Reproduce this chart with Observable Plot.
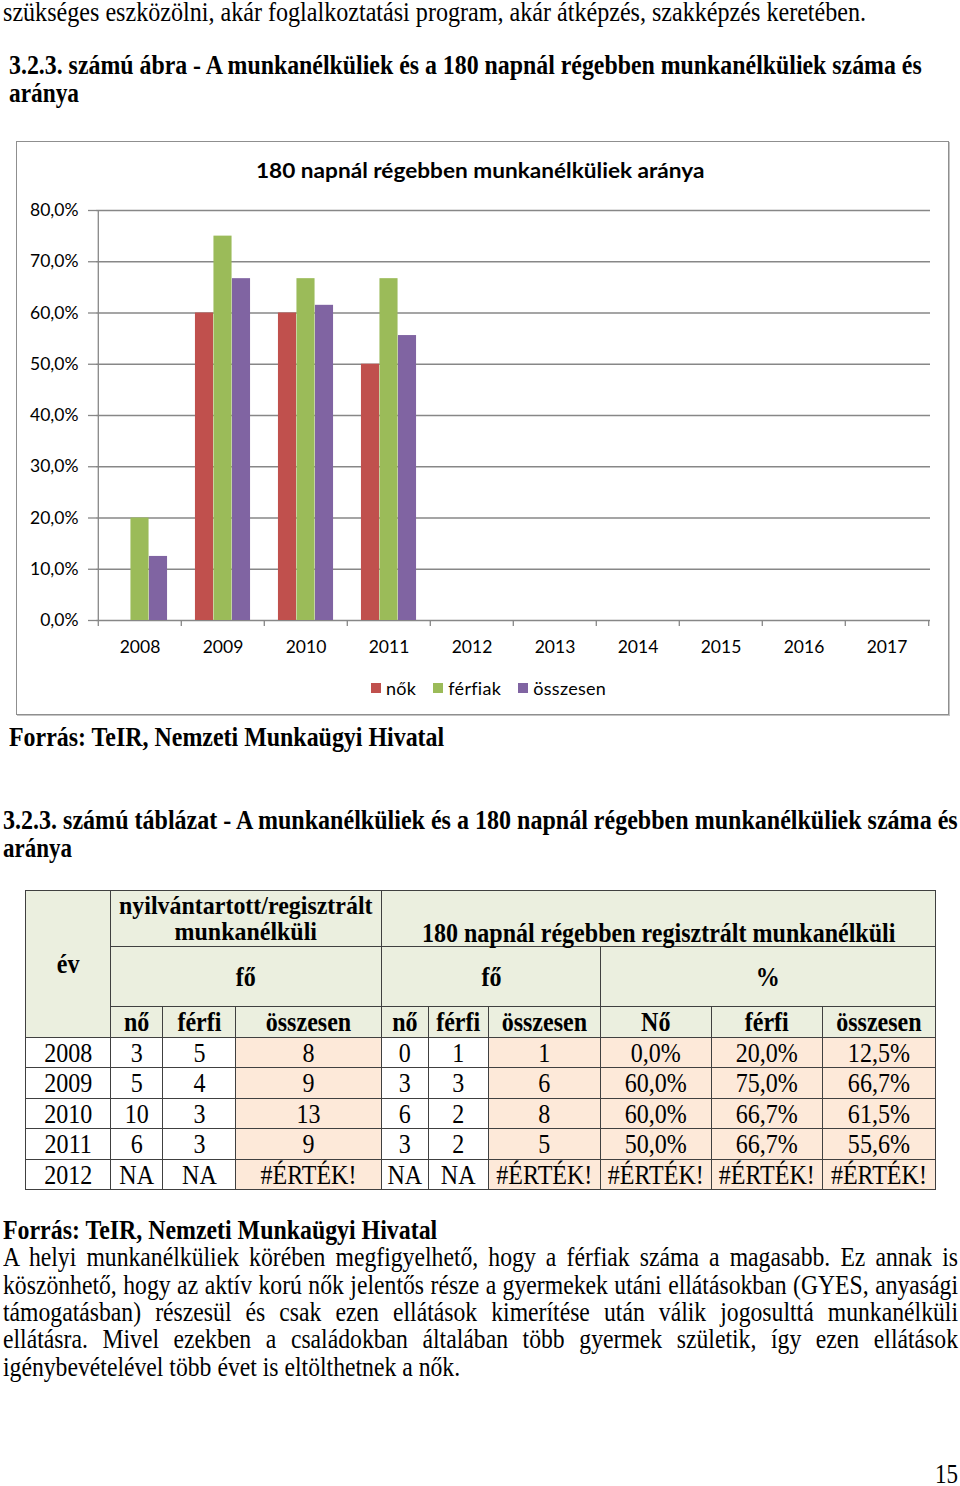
<!DOCTYPE html>
<html><head><meta charset="utf-8">
<script src="https://cdn.jsdelivr.net/npm/d3@7"></script>
<script src="https://cdn.jsdelivr.net/npm/@observablehq/plot@0.6"></script>
<style>
html,body{margin:0;padding:0;background:#fff}
body{width:960px;height:1486px;position:relative;overflow:hidden;font-family:"Liberation Serif","Times New Roman",serif;color:#000}
.t{position:absolute;white-space:nowrap;font-size:27px;line-height:27px;transform-origin:0 0;display:inline-block}
.b{font-weight:bold}
.jl{position:absolute;white-space:nowrap;font-size:27px;line-height:27px;transform-origin:0 0;text-align:justify;text-align-last:justify}
#box{position:absolute;left:16px;top:141px;width:933px;height:574px;box-sizing:border-box;border:1px solid #8f8f8f;box-shadow:1px 1px 0 #c4c4c4}
#ctitle{position:absolute;left:0;right:0;top:156px;text-align:center;font-family:Lato,sans-serif;font-weight:bold;font-size:21px;line-height:28px;color:#000}
#ctitle span{display:inline-block;transform-origin:50% 50%}
#chart{position:absolute;left:0;top:190px}
#legend{position:absolute;left:371px;top:677px;display:flex;gap:17px;font-family:Lato,sans-serif;font-size:18px;line-height:22px;letter-spacing:0.3px}
#legend .it{display:flex;align-items:center;gap:5px}
#legend .sw{width:10px;height:10px}
#tbl{position:absolute;left:25px;top:890px;width:910px;border-collapse:collapse;table-layout:fixed;font-size:27px;line-height:26px}
#tbl td{border:1.5px solid #404040;padding:0;text-align:center;vertical-align:middle;white-space:nowrap;overflow:visible}
#tbl td div{display:block;width:112.36%;margin-left:-6.18%;transform:scaleX(0.89);transform-origin:50% 50%;text-align:center}
#tbl td.two div{font-size:25.5px;line-height:26px;width:106.5%;margin-left:-3.25%;transform:scaleX(0.939)}
#tbl td.h{background:#EBEFDF;font-weight:bold}
#tbl td.p{background:#FDE9D9}
#tbl td.w{background:#fff}
</style></head>
<body>
<div id="box"></div>
<div id="ctitle"><span id="ctitleText"></span></div>
<div id="chart"></div>
<div id="legend"></div>
<script>
// ---------- chart data ----------
const years = ["2008","2009","2010","2011","2012","2013","2014","2015","2016","2017"];
const dataYears = ["2008","2009","2010","2011"];
const series = ["nők","férfiak","összesen"];
const seriesColors = ["#C0504D","#9BBB59","#8064A2"];
const nok = [0, 60, 60, 50];
const ferfiak = [20, 75, 66.7, 66.7];
const osszesen = [12.5, 66.7, 61.5, 55.6];
const yTicks = [0,10,20,30,40,50,60,70,80];
const chartTitle = "180 napnál régebben munkanélküliek aránya";

// ---------- table data ----------
const tYears = ["2008","2009","2010","2011","2012"];
const regNo = ["3","5","10","6","NA"];
const regFerfi = ["5","4","3","3","NA"];
const regOssz = ["8","9","13","9","#ÉRTÉK!"];
const longNo = ["0","3","6","3","NA"];
const longFerfi = ["1","3","2","2","NA"];
const longOssz = ["1","6","8","5","#ÉRTÉK!"];
const pctNo = ["0,0%","60,0%","60,0%","50,0%","#ÉRTÉK!"];
const pctFerfi = ["20,0%","75,0%","66,7%","66,7%","#ÉRTÉK!"];
const pctOssz = ["12,5%","66,7%","61,5%","55,6%","#ÉRTÉK!"];
const subHeads = ["nő","férfi","összesen","nő","férfi","összesen","Nő","férfi","összesen"];

// ---------- texts ----------
const topLine = "szükséges  eszközölni, akár foglalkoztatási program, akár átképzés, szakképzés keretében.";
const figCaption = ["3.2.3. számú ábra - A munkanélküliek és a 180 napnál régebben munkanélküliek száma és", "aránya"];
const tabCaption = ["3.2.3. számú táblázat - A munkanélküliek és a 180 napnál régebben munkanélküliek száma és", "aránya"];
const source = "Forrás: TeIR, Nemzeti Munkaügyi Hivatal";
const para = [
 "A helyi munkanélküliek körében megfigyelhető, hogy a férfiak száma a magasabb. Ez annak is",
 "köszönhető, hogy az aktív korú nők jelentős része a gyermekek utáni ellátásokban (GYES, anyasági",
 "támogatásban) részesül és csak ezen ellátások kimerítése után válik jogosulttá munkanélküli",
 "ellátásra. Mivel ezekben a családokban általában több gyermek születik, így ezen ellátások",
 "igénybevételével több évet is eltölthetnek a nők."
];
const pageNo = "15";

// ---------- chart ----------
const W = 960, H = 480, ML = 96, MR = 30, MT = 20, MB = 50;
const bw = (W - ML - MR) / years.length;
const barW = 18.5;
const values = [nok, ferfiak, osszesen];
const data = dataYears.flatMap((y, i) => series.map((s, k) => ({year: y, series: s, value: values[k][i]})));
const grid = "#878787";
const fmt = d => d.toFixed(1).replace(".", ",") + "%";

const chart = Plot.plot({
  width: W, height: H,
  marginLeft: ML, marginRight: MR, marginTop: MT, marginBottom: MB,
  style: {background: "transparent", fontFamily: "Lato, sans-serif", fontSize: "17.5px", color: "#000", overflow: "visible"},
  x: {domain: years, padding: 0, label: null},
  y: {domain: [0, 80], label: null},
  color: {domain: series, range: seriesColors},
  marks: [
    Plot.ruleY(yTicks, {stroke: grid, strokeWidth: 1.3}),
    Plot.ruleX([years[0]], {dx: -bw / 2, stroke: grid, strokeWidth: 1.3}),
    ...series.map((s, k) => Plot.barY(data.filter(d => d.series === s), {
      x: "year", y: "value", fill: "series",
      insetLeft: (bw - barW) / 2, insetRight: (bw - barW) / 2, dx: (k - 1) * barW
    })),
    Plot.axisY({ticks: yTicks, tickSize: 8, tickPadding: 10, tickFormat: fmt, stroke: grid, strokeWidth: 1.3}),
    Plot.axisX({tickSize: 0, tickPadding: 20}),
    Plot.axisX({tickSize: 6, text: null, dx: -bw / 2, stroke: grid, strokeWidth: 1.3}),
    Plot.axisX({ticks: [years[years.length - 1]], tickSize: 6, text: null, dx: bw / 2, stroke: grid, strokeWidth: 1.3})
  ]
});
document.getElementById("chart").appendChild(chart);
document.getElementById("ctitleText").textContent = chartTitle;

const legend = document.getElementById("legend");
series.forEach((s, k) => {
  const it = document.createElement("div"); it.className = "it";
  const sw = document.createElement("div"); sw.className = "sw"; sw.style.background = seriesColors[k];
  const tx = document.createElement("span"); tx.textContent = s;
  it.appendChild(sw); it.appendChild(tx); legend.appendChild(it);
});

// ---------- page texts ----------
// base is the text baseline; the line box is kept small so boxes do not overlap
function addText(str, x, base, w, bold, lh = 22) {
  const el = document.createElement("div");
  el.className = "t" + (bold ? " b" : "");
  el.textContent = str;
  el.style.lineHeight = lh + "px";
  const off = (lh - 1.107 * 27) / 2 + 0.891 * 27;
  el.style.left = x + "px"; el.style.top = (base - off) + "px";
  el.dataset.w = w;
  document.body.appendChild(el);
  return el;
}
const fits = [];
fits.push(addText(topLine, 3, 21.5, 863, false));
fits.push(addText(figCaption[0], 9, 74.5, 913, true));
fits.push(addText(figCaption[1], 9, 102.5, 70, true));
fits.push(addText(source, 9, 746.5, 435, true));
fits.push(addText(tabCaption[0], 3, 829.5, 955, true));
fits.push(addText(tabCaption[1], 3, 857.5, 69, true));
fits.push(addText(source, 3, 1239.5, 434, true));
const paraBase = 1266.5, paraStep = 27.3;
const lastLine = addText(para[4], 3, paraBase + 4 * paraStep, 457, false);
fits.push(lastLine);
fits.push(addText(pageNo, 935, 1483, 23, false));
const jlines = para.slice(0, 4).map((p, i) => {
  const el = document.createElement("div");
  el.className = "jl"; el.textContent = p;
  const lh = 22, off = (lh - 1.107 * 27) / 2 + 0.891 * 27;
  el.style.lineHeight = lh + "px";
  el.style.left = "3px"; el.style.top = (paraBase + i * paraStep - off) + "px";
  document.body.appendChild(el);
  return el;
});

// ---------- table ----------
const tbl = document.createElement("table"); tbl.id = "tbl";
const colW = [85, 52, 73, 146, 47, 60, 112, 111, 111, 113];
const cg = document.createElement("colgroup");
colW.forEach(w => { const c = document.createElement("col"); c.style.width = w + "px"; cg.appendChild(c); });
tbl.appendChild(cg);
function row(h) { const tr = document.createElement("tr"); tr.style.height = h + "px"; tbl.appendChild(tr); return tr; }
function cell(tr, html, cls, opts = {}) {
  const td = document.createElement("td"); td.className = cls;
  td.innerHTML = "<div>" + html + "</div>";
  if (opts.rs) td.rowSpan = opts.rs; if (opts.cs) td.colSpan = opts.cs;
  if (opts.va) td.style.verticalAlign = opts.va;
  tr.appendChild(td); return td;
}
let r = row(56);
cell(r, "év", "h", {rs: 3});
cell(r, "nyilvántartott/regisztrált<br>munkanélküli", "h two", {cs: 3});
cell(r, "180 napnál régebben regisztrált munkanélküli", "h", {cs: 6, va: "bottom"});
r = row(60);
cell(r, "fő", "h", {cs: 3}); cell(r, "fő", "h", {cs: 3}); cell(r, "%", "h", {cs: 3});
r = row(31);
subHeads.forEach(s => cell(r, s, "h"));
const cols = [tYears, regNo, regFerfi, regOssz, longNo, longFerfi, longOssz, pctNo, pctFerfi, pctOssz];
const shade = ["w","w","w","p","w","w","p","p","p","p"];
const rowH = [30, 31, 30, 31, 30];
tYears.forEach((y, i) => {
  const tr = row(rowH[i]);
  cols.forEach((c, j) => cell(tr, c[i], shade[j]));
});
document.body.appendChild(tbl);

// ---------- fitting of condensed page text ----------
document.fonts.ready.then(() => {
  const s5 = 457 / lastLine.offsetWidth;
  fits.forEach(el => {
    const s = (+el.dataset.w) / el.offsetWidth;
    el.style.transform = "scaleX(" + s + ")";
  });
  jlines.forEach(el => {
    el.style.width = (955 / s5) + "px";
    el.style.transform = "scaleX(" + s5 + ")";
  });
  const ct = document.getElementById("ctitleText");
  ct.style.transform = "scaleX(" + (448 / ct.offsetWidth) + ")";
});
</script>
</body></html>
